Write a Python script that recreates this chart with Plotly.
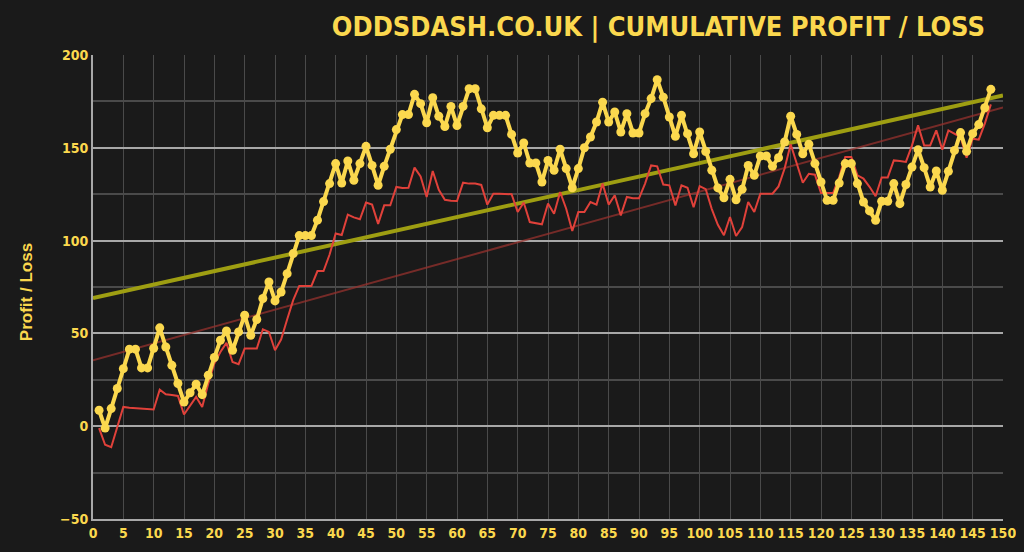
import plotly.graph_objects as go

C = {
    "bg":     "#1a1a1a",
    "yellow": "#fbd84e",
    "red":    "#e0413a",
    "olive":  "#9e9e12",
    "dred":   "rgba(150,50,45,0.75)",
    "major":  "#a8a8a8",
    "minor":  "#4a4a4a",
}

FONT = "Liberation Sans Narrow, DejaVu Sans Condensed, Arial Narrow, sans-serif"

bets = list(range(1, 149))

profit = [
    8.6, -1, 9.5, 20.3, 31, 41.5, 41.5, 31.4, 31.4, 42,
    53, 42.7, 32.8, 23, 13, 18, 22.6, 17, 27.5, 37,
    46.3, 51.3, 40.9, 50.8, 59.8, 49, 57.5, 68.8, 77.7, 67.5,
    72.3, 82.2, 93, 102.7, 102.7, 102.7, 111, 121, 130.7, 141.5,
    131, 142.9, 132.5, 141.5, 150.8, 140.5, 129.8, 140, 149.2, 159.8,
    167.9, 167.9, 178.8, 173.8, 163.5, 177, 167, 161.5, 172.3, 162,
    172.3, 181.8, 181.8, 171, 160.8, 167.5, 167.5, 167.5, 157.2, 147.2,
    152.6, 141.8, 141.8, 131.6, 143.2, 137.9, 149.2, 138.8, 128.5, 138.8,
    150, 155.8, 163.9, 174.6, 163.9, 169.3, 158.5, 168.4, 158, 158,
    168.4, 176.5, 186.7, 177.3, 166.6, 156.2, 167.5, 157.6, 146.8, 158.5,
    148, 137.9, 128.4, 123.1, 133, 122, 127.6, 140.5, 135.2, 145.6,
    145.6, 140, 144.7, 153.1, 167, 157.2, 146.8, 151.9, 141.5, 131.6,
    121.7, 121.7, 131, 141.5, 141.5, 130.7, 120.8, 116, 110.9, 121.2,
    121.2, 130.7, 119.9, 130.2, 139.6, 149, 139.3, 128.9, 137.5, 127.1,
    137.3, 148.6, 158.2, 148.1, 157.6, 162.5, 171.6, 181.5,
]

profit_alt = [
    -1, -10, -11.3, -0.5, 10.4, 10, 9.8, 9.6, 9.4, 9,
    19.7, 17.2, 16.8, 16.3, 6.3, 11, 15.8, 10.4, 23, 33.8,
    40, 44.9, 34.6, 33.4, 41.8, 41.8, 41.8, 52.2, 50.8, 40.9,
    46.7, 57.5, 67.9, 75.6, 75.6, 75.6, 83.6, 83.6, 92.5, 103.8,
    103, 114, 112.5, 111.5, 120.5, 119.4, 109, 119, 119, 128.9,
    128.3, 128.5, 139.3, 134.6, 123.5, 137.5, 127.4, 122, 121.5, 121.3,
    131.2, 130.7, 130.7, 130, 119.4, 125.3, 125.3, 125.3, 125, 115.4,
    120.5, 110, 109.5, 108.8, 120, 114.5, 126.2, 117.2, 105.2, 115.4,
    115.4, 120.8, 119.4, 130.7, 119.4, 124.4, 113.6, 123.5, 122.8, 122.8,
    130.7, 140.5, 140, 130.2, 129.8, 119, 129.8, 128.5, 118, 129.3,
    127.7, 117, 108.5, 102.9, 112.7, 102.5, 107.3, 120.8, 115.4, 125.3,
    125.3, 125.3, 129.2, 138.8, 151.9, 141.5, 131.2, 136, 135.5, 125.6,
    125.6, 125.6, 134.2, 145, 145, 135.2, 133.4, 129, 123.9, 134,
    134, 143.2, 142.9, 142.4, 151.3, 162.1, 151.3, 151.3, 159.4, 149,
    159.4, 157.6, 155.8, 144.7, 154.9, 154.4, 163, 173.4,
]

trend_x = [0, 150]
trend_profit = [69, 178.2]
trend_alt = [35.5, 171.8]

fig = go.Figure()

fig.add_trace(go.Scatter(x=trend_x, y=trend_alt, mode="lines",
    line=dict(color=C["dred"], width=2), hoverinfo="skip"))
fig.add_trace(go.Scatter(x=trend_x, y=trend_profit, mode="lines",
    line=dict(color=C["olive"], width=4), hoverinfo="skip"))
fig.add_trace(go.Scatter(x=bets, y=profit_alt, mode="lines",
    line=dict(color=C["red"], width=2)))
fig.add_trace(go.Scatter(x=bets, y=profit, mode="lines+markers",
    line=dict(color=C["yellow"], width=4),
    marker=dict(color=C["yellow"], size=9)))

# page has an 8px body margin, so the margins are shifted to compensate
fig.update_layout(
    width=1024, height=552,
    paper_bgcolor=C["bg"], plot_bgcolor=C["bg"],
    showlegend=False,
    margin=dict(l=85, r=29, t=47, b=41),
    font=dict(family=FONT, color=C["yellow"], size=14),
    title=dict(text="<b>ODDSDASH.CO.UK | CUMULATIVE PROFIT / LOSS</b>",
               x=0.954, xanchor="right", y=0.9656, yanchor="middle",
               font=dict(family=FONT, size=27, color=C["yellow"])),
    xaxis=dict(range=[0, 150], dtick=5, tick0=0,
               showgrid=True, gridcolor=C["minor"], gridwidth=1,
               zeroline=False, showline=True, linecolor=C["major"], linewidth=2,
               tickfont=dict(family=FONT, size=14, color=C["yellow"], weight="bold"),
               ticks=""),
    yaxis=dict(range=[-50, 200], dtick=50, tick0=0,
               showgrid=True, gridcolor=C["major"], gridwidth=1.5,
               minor=dict(dtick=25, tick0=0, showgrid=True, gridcolor=C["minor"]),
               zeroline=False, showline=True, linecolor=C["major"], linewidth=2,
               tickfont=dict(family=FONT, size=14, color=C["yellow"], weight="bold"),
               ticks=""),
    annotations=[dict(text="<b>Profit / Loss</b>", textangle=-90,
                      xref="paper", yref="paper", x=-0.0736, y=0.489,
                      xanchor="center", yanchor="middle", showarrow=False,
                      font=dict(family="Liberation Sans, Arial, sans-serif",
                                size=17, color=C["yellow"]))],
)

fig.write_html("out.html",
               post_script="document.body.style.backgroundColor='#1a1a1a';")
